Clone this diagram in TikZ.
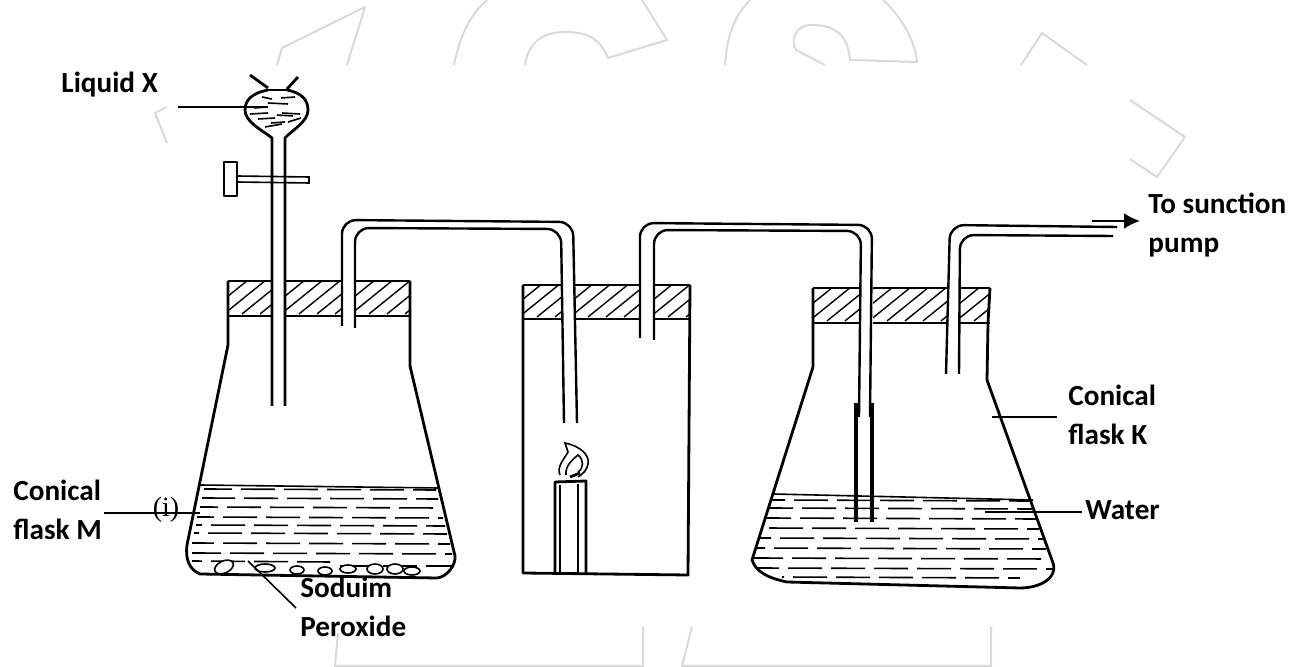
\documentclass[tikz,border=0pt]{standalone}
\usepackage{fontspec}
\setmainfont{Carlito}
\newfontfamily\ifont{Liberation Serif}
\usepackage{tikz}
\usetikzlibrary{arrows.meta}
\usetikzlibrary{positioning}

\tikzset{
  glass/.style={line width=1.4pt, line join=round},
  tubeline/.style={line width=1.2pt, rounded corners=7pt},
  leader/.style={line width=0.8pt},
  hatchline/.style={line width=0.7pt},
  liquidline/.style={line width=0.8pt, dash pattern=on 17pt off 4.5pt},
  labeltext/.style={font=\fontsize{14.6}{19.5}\selectfont\bfseries, align=left, anchor=base west, inner sep=0pt},
  watermark/.style={line width=1pt, gray!30, line join=round},
}

% one stretch of a rubber stopper, with its hatching
\newcommand{\stopperpart}[4]{%
  \begin{scope}
    \clip (#1,#3) rectangle (#2,#4);
    \foreach \s in {0,18,...,240}
      \draw[hatchline] ({#1-40+\s},#4-2) -- ++(42,-34);
  \end{scope}
  \draw[glass] (#1,#3) -- (#2,#3) (#1,#4) -- (#2,#4);
}

\begin{document}
\begin{tikzpicture}[x=0.5pt, y=-0.5pt, >=stealth]
  \useasboundingbox (0,0) rectangle (1291,667);

  % ===== Watermark =====
  \draw[watermark] (277,65) -- (282,48) -- (365,7) -- (347,65);
  \draw[watermark] (167,107) -- (155,113) -- (167,143);
  \draw[watermark] (454,65) .. controls (460,35) and (470,15) .. (487,0);
  \draw[watermark] (642,0) -- (667,40) -- (608,58) .. controls (600,40) and (590,32) .. (565,32) .. controls (540,32) and (528,45) .. (525,65);
  \draw[watermark] (725,65) .. controls (727,35) and (735,15) .. (750,0);
  \draw[watermark] (883,0) .. controls (900,15) and (915,40) .. (917,62) -- (850,60) .. controls (848,35) and (835,25) .. (812,25) .. controls (795,25) and (790,40) .. (796,50) -- (825,65);
  \draw[watermark] (1021,65) -- (1042,33) -- (1087,65);
  \draw[watermark] (1130,100) -- (1185,137) -- (1157,177) -- (1130,159);
  \draw[watermark] (338,633) -- (335,666) -- (643,666) -- (643,627);
  \draw[watermark] (692,627) -- (682,666) -- (991,666) -- (991,627);

  % ===== Dropping funnel =====
  \draw[glass] (268,90) .. controls (252,93) and (245,100) .. (245,110) .. controls (245,122) and (262,130) .. (272,138) -- (272,406);
  \draw[glass] (287,90) .. controls (302,93) and (308,100) .. (308,110) .. controls (308,122) and (292,130) .. (285,138) -- (285,406);
  \draw[glass] (268,90) -- (287,90);
  \draw[glass] (250,75) -- (268,88);
  \draw[glass] (298,77) -- (287,89);
  \foreach \xa/\ya/\xb/\yb in {262/97/272/99, 281/98/295/97, 268/103/288/104, 254/108/267/107, 250/114/268/113, 282/113/300/114, 258/119/275/118, 277/115/293/116, 271/123/285/122, 288/122/301/118, 265/127/282/124}
    \draw[leader] (\xa,\ya) -- (\xb,\yb);

  % tap
  \draw[glass] (224,162) rectangle (237,196);
  \draw[leader] (237,176) -- (309,177) -- (309,183) -- (237,182);

  % ===== Flask M =====
  \stopperpart{228}{272}{281}{316}
  \stopperpart{285}{342}{281}{316}
  \stopperpart{355}{410}{281}{316}
  \draw[glass] (228,281) -- (228,345) -- (187,545) .. controls (185,560) and (190,570) .. (200,574) -- (437,578) .. controls (447,577) and (456,565) .. (455,556) -- (410,366) -- (410,281);
  \draw[leader] (200,485) -- (438,488);
  \foreach \y/\xa/\xb/\ph in {489/204/436/3, 498/202/438/22, 507/200/441/8, 517/197/443/30, 525/196/445/14, 533/194/447/36, 543/192/450/6, 553/192/452/24, 561/192/330/12}
    \draw[liquidline, dash phase=\ph] (\xa,\y) -- (\xb,\y+1);
  \draw[liquidline] (340,566) -- (452,566);
  \foreach \x/\y/\rx/\ry in {265/568/10/4, 297/570/7/4, 325/571/7/4, 348/569/8/4, 375/569/8/5, 395/569/8/5, 412/571/8/4}
    \draw[leader, fill=white] (\x,\y) ellipse ({\rx} and {\ry});
  \draw[leader, fill=white, rotate around={25:(224,567)}] (224,567) ellipse (10 and 6);

  % ===== Tube from M to the jar =====
  \draw[tubeline] (342,326) -- (342,220) -- (573,222) -- (577,423);
  \draw[tubeline] (355,328) -- (355,228) -- (561,229) -- (564,423);

  % ===== Gas jar =====
  \stopperpart{523}{562}{285}{319}
  \stopperpart{574}{640}{285}{319}
  \stopperpart{654}{690}{285}{319}
  \draw[glass] (523,285) -- (523,573) -- (688,575) -- (690,285);

  % candle
  \draw[glass] (555,573) -- (555,482) -- (586,481) -- (586,573);
  \draw[glass] (560,573) -- (560,485);
  \draw[glass] (578,573) -- (578,484);
  \draw[leader] (560,475) .. controls (556,467) and (565,458) .. (568,452) -- (565,443) .. controls (580,446) and (590,455) .. (588,464) .. controls (587,470) and (583,474) .. (578,477);
  \draw[leader] (566,475) .. controls (565,466) and (572,460) .. (578,455) .. controls (584,460) and (584,468) .. (578,472);
  \draw[glass] (570,477) -- (580,473);

  % ===== Tube from the jar to K =====
  \draw[tubeline] (640,338) -- (640,223) -- (872,225) -- (870,417);
  \draw[tubeline] (654,340) -- (654,230) -- (861,231) -- (859,417);
  \draw[line width=2.2pt] (856,403) -- (856,522);
  \draw[line width=2.2pt] (872,403) -- (872,522);

  % ===== Flask K =====
  \stopperpart{813}{860}{288}{323}
  \stopperpart{873}{948}{288}{323}
  \stopperpart{960}{990}{288}{323}
  \draw[glass] (813,288) -- (813,367) -- (752,560) .. controls (756,572) and (768,578) .. (787,582) -- (1020,588) .. controls (1040,588) and (1058,578) .. (1053,563) -- (987,380) -- (988,323) -- (990,288);
  \draw[leader] (773,494) -- (1033,500);
  \foreach \y/\xa/\xb/\ph in {500/771/1029/10, 508/768/1032/26, 518/765/1036/4, 528/762/1039/18, 538/758/1043/32, 548/755/1046/12, 558/754/1050/24, 568/757/1053/6, 577/782/1020/16}
    \draw[liquidline, dash phase=\ph] (\xa,\y) -- (\xb,\y+1);

  % ===== Last tube =====
  \draw[tubeline] (946,374) -- (950,225) -- (1117,227);
  \draw[tubeline] (959,374) -- (960,235) -- (1113,236);

  % ===== Labels =====
  \node[labeltext] (liquid) at (61,93) {Liquid X};
  \node[labeltext] (flaskm) at (13,540) {Conical\\flask M};
  \node[labeltext] (peroxide) at (300,637) {Soduim\\Peroxide};
  \node[labeltext] (pump) at (1148,253) {To sunction\\pump};
  \node[labeltext] (flaskk) at (1068,445) {Conical\\flask K};
  \node[labeltext] (water) at (1085,520) {Water};
  \node[font=\fontsize{14}{14}\ifont, inner sep=0pt] (mark) at (166,510) {(i)};

  % leader lines
  \coordinate (a1) at (178,107); \coordinate (a2) at (268,107);
  \coordinate (b1) at (104,513); \coordinate (b2) at (200,513);
  \coordinate (c1) at (248,561); \coordinate (c2) at (296,608);
  \coordinate (d1) at (992,417); \coordinate (d2) at (1057,417);
  \coordinate (e1) at (985,512); \coordinate (e2) at (1082,512);
  \coordinate (f1) at (1092,221); \coordinate (f2) at (1140,221);
  \draw[leader] (a1) -- (a2);
  \draw[leader] (b1) -- (b2);
  \draw[leader] (c1) -- (c2);
  \draw[leader] (d1) -- (d2);
  \draw[leader] (e1) -- (e2);
  \draw[line width=1.1pt, -{Latex[length=8pt,width=8pt]}] (f1) -- (f2);
\end{tikzpicture}
\end{document}
